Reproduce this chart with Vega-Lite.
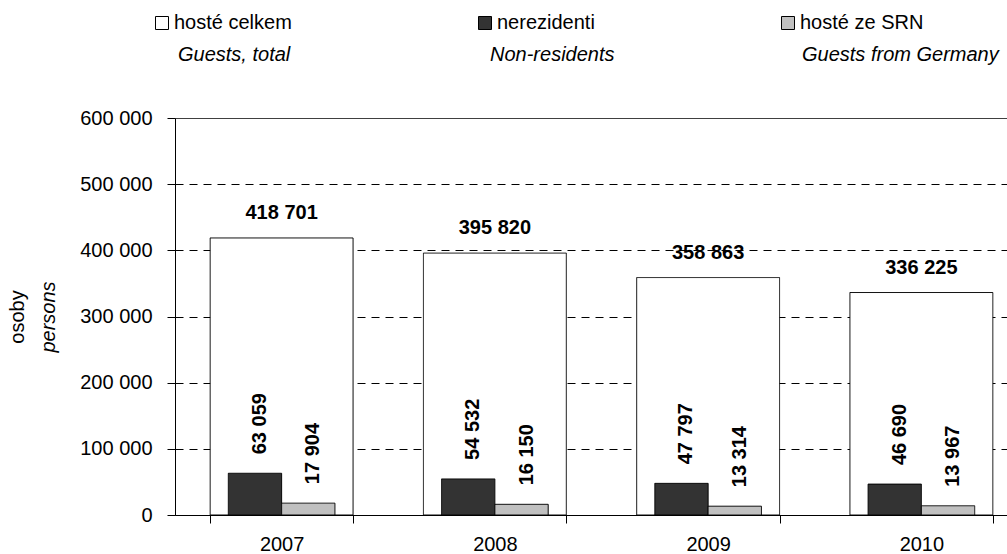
{
  "$schema": "https://vega.github.io/schema/vega-lite/v6.json",
  "width": 832,
  "height": 397,
  "autosize": {"type": "none"},
  "padding": {"left": 175, "top": 118, "right": 0, "bottom": 39},
  "background": "white",
  "config": {
    "view": {"stroke": null},
    "font": "Liberation Sans",
    "locale": {"number": {"decimal": ",", "thousands": " ", "grouping": [3], "currency": ["", " Kč"]}}
  },
  "data": {
    "values": [
      {"year": "2007", "series": "hosté celkem", "series_en": "Guests, total", "value": 418701},
      {"year": "2007", "series": "nerezidenti", "series_en": "Non-residents", "value": 63059},
      {"year": "2007", "series": "hosté ze SRN", "series_en": "Guests from Germany", "value": 17904},
      {"year": "2008", "series": "hosté celkem", "series_en": "Guests, total", "value": 395820},
      {"year": "2008", "series": "nerezidenti", "series_en": "Non-residents", "value": 54532},
      {"year": "2008", "series": "hosté ze SRN", "series_en": "Guests from Germany", "value": 16150},
      {"year": "2009", "series": "hosté celkem", "series_en": "Guests, total", "value": 358863},
      {"year": "2009", "series": "nerezidenti", "series_en": "Non-residents", "value": 47797},
      {"year": "2009", "series": "hosté ze SRN", "series_en": "Guests from Germany", "value": 13314},
      {"year": "2010", "series": "hosté celkem", "series_en": "Guests, total", "value": 336225},
      {"year": "2010", "series": "nerezidenti", "series_en": "Non-residents", "value": 46690},
      {"year": "2010", "series": "hosté ze SRN", "series_en": "Guests from Germany", "value": 13967}
    ]
  },
  "encoding": {
    "x": {
      "field": "year", "type": "nominal",
      "scale": {"range": [0, 853], "paddingInner": 0.33, "paddingOuter": 0.165},
      "axis": {
        "title": null, "labelAngle": 0, "labelFont": "Liberation Sans", "labelFontSize": 20, "labelColor": "#000",
        "tickBand": "extent", "tickSize": 8, "tickColor": "#000", "domainColor": "#000", "labelPadding": 11, "grid": false
      }
    }
  },
  "layer": [
    {
      "transform": [{"filter": "datum.series === 'hosté celkem'"}],
      "mark": {"type": "bar", "stroke": "#000", "strokeWidth": 1},
      "encoding": {
        "y": {
          "field": "value", "type": "quantitative",
          "scale": {"domain": [0, 600000], "nice": false},
          "axis": {
            "values": [0, 100000, 200000, 300000, 400000, 500000, 600000],
            "format": ",d", "labelFont": "Liberation Sans", "labelFontSize": 20, "labelColor": "#000",
            "labelPadding": 15, "tickSize": 8, "tickColor": "#000", "domainColor": "#000",
            "grid": true, "gridColor": "#000", "gridOpacity": 1,
            "gridDash": {"condition": {"test": "datum.value === 600000", "value": [1, 0]}, "value": [8, 6]},
            "title": "osoby", "titleFont": "Liberation Sans", "titleFontSize": 20, "titleFontWeight": "normal", "titleColor": "#000",
            "titleAngle": -90, "titleX": -152, "titleY": 198.5, "titleAlign": "center", "titleBaseline": "alphabetic"
          }
        },
        "fill": {
          "field": "series", "type": "nominal",
          "scale": {"domain": ["hosté celkem", "nerezidenti", "hosté ze SRN"], "range": ["#ffffff", "#333333", "#c0c0c0"]},
          "legend": {
            "orient": "none", "legendX": -23, "legendY": -105, "direction": "horizontal", "title": null, "padding": 0,
            "columnPadding": 183, "gridAlign": "each", "symbolType": "square", "symbolSize": 169,
            "symbolStrokeColor": "#000", "symbolStrokeWidth": 1, "symbolOpacity": 1,
            "labelFont": "Liberation Sans", "labelFontSize": 20, "labelColor": "#000", "labelOffset": 2, "labelLimit": 400
          }
        },
        "strokeDash": {
          "field": "series_en", "type": "nominal",
          "scale": {"domain": ["Guests, total", "Non-residents", "Guests from Germany"], "range": [[1, 0], [1, 0], [1, 0]]},
          "legend": {
            "orient": "none", "legendX": -17, "legendY": -73, "direction": "horizontal", "title": null, "padding": 0,
            "columnPadding": 95, "gridAlign": "all", "symbolSize": 1, "symbolOpacity": 0, "symbolStrokeWidth": 0,
            "labelFont": "Liberation Sans", "labelFontSize": 20, "labelFontStyle": "italic", "labelColor": "#000",
            "labelOffset": 0, "labelLimit": 400
          }
        }
      }
    },
    {
      "transform": [{"filter": "datum.series !== 'hosté celkem'"}],
      "mark": {"type": "bar", "stroke": "#000", "strokeWidth": 1},
      "encoding": {
        "xOffset": {"field": "series", "type": "nominal", "sort": ["nerezidenti", "hosté ze SRN"], "scale": {"paddingInner": 0, "paddingOuter": 0.34}},
        "y": {
          "field": "value", "type": "quantitative",
          "scale": {"domain": [0, 600000], "nice": false},
          "axis": {
            "orient": "left", "labels": false, "ticks": false, "domain": false, "grid": false,
            "title": "persons", "titleFont": "Liberation Sans", "titleFontSize": 20, "titleFontWeight": "normal",
            "titleFontStyle": "italic", "titleColor": "#000",
            "titleAngle": -90, "titleX": -121, "titleY": 198.5, "titleAlign": "center", "titleBaseline": "alphabetic"
          }
        },
        "fill": {"field": "series", "type": "nominal"},
        "strokeDash": {"field": "series_en", "type": "nominal"}
      }
    },
    {
      "transform": [{"filter": "datum.series === 'hosté celkem'"}],
      "mark": {"type": "text", "font": "Liberation Sans", "fontSize": 20, "fontWeight": "bold", "color": "#000", "baseline": "alphabetic", "dy": -19},
      "encoding": {
        "y": {"field": "value", "type": "quantitative", "axis": null},
        "text": {"field": "value", "type": "quantitative", "format": ",d"}
      }
    },
    {
      "transform": [{"filter": "datum.series !== 'hosté celkem'"}],
      "mark": {"type": "text", "font": "Liberation Sans", "fontSize": 20, "fontWeight": "bold", "color": "#000", "angle": -90, "align": "left", "baseline": "middle", "dx": 19, "dy": 5},
      "encoding": {
        "xOffset": {"field": "series", "type": "nominal", "sort": ["nerezidenti", "hosté ze SRN"], "scale": {"paddingInner": 0, "paddingOuter": 0.34}},
        "y": {"field": "value", "type": "quantitative", "axis": null},
        "text": {"field": "value", "type": "quantitative", "format": ",d"}
      }
    }
  ],
  "resolve": {"axis": {"y": "independent"}}
}
